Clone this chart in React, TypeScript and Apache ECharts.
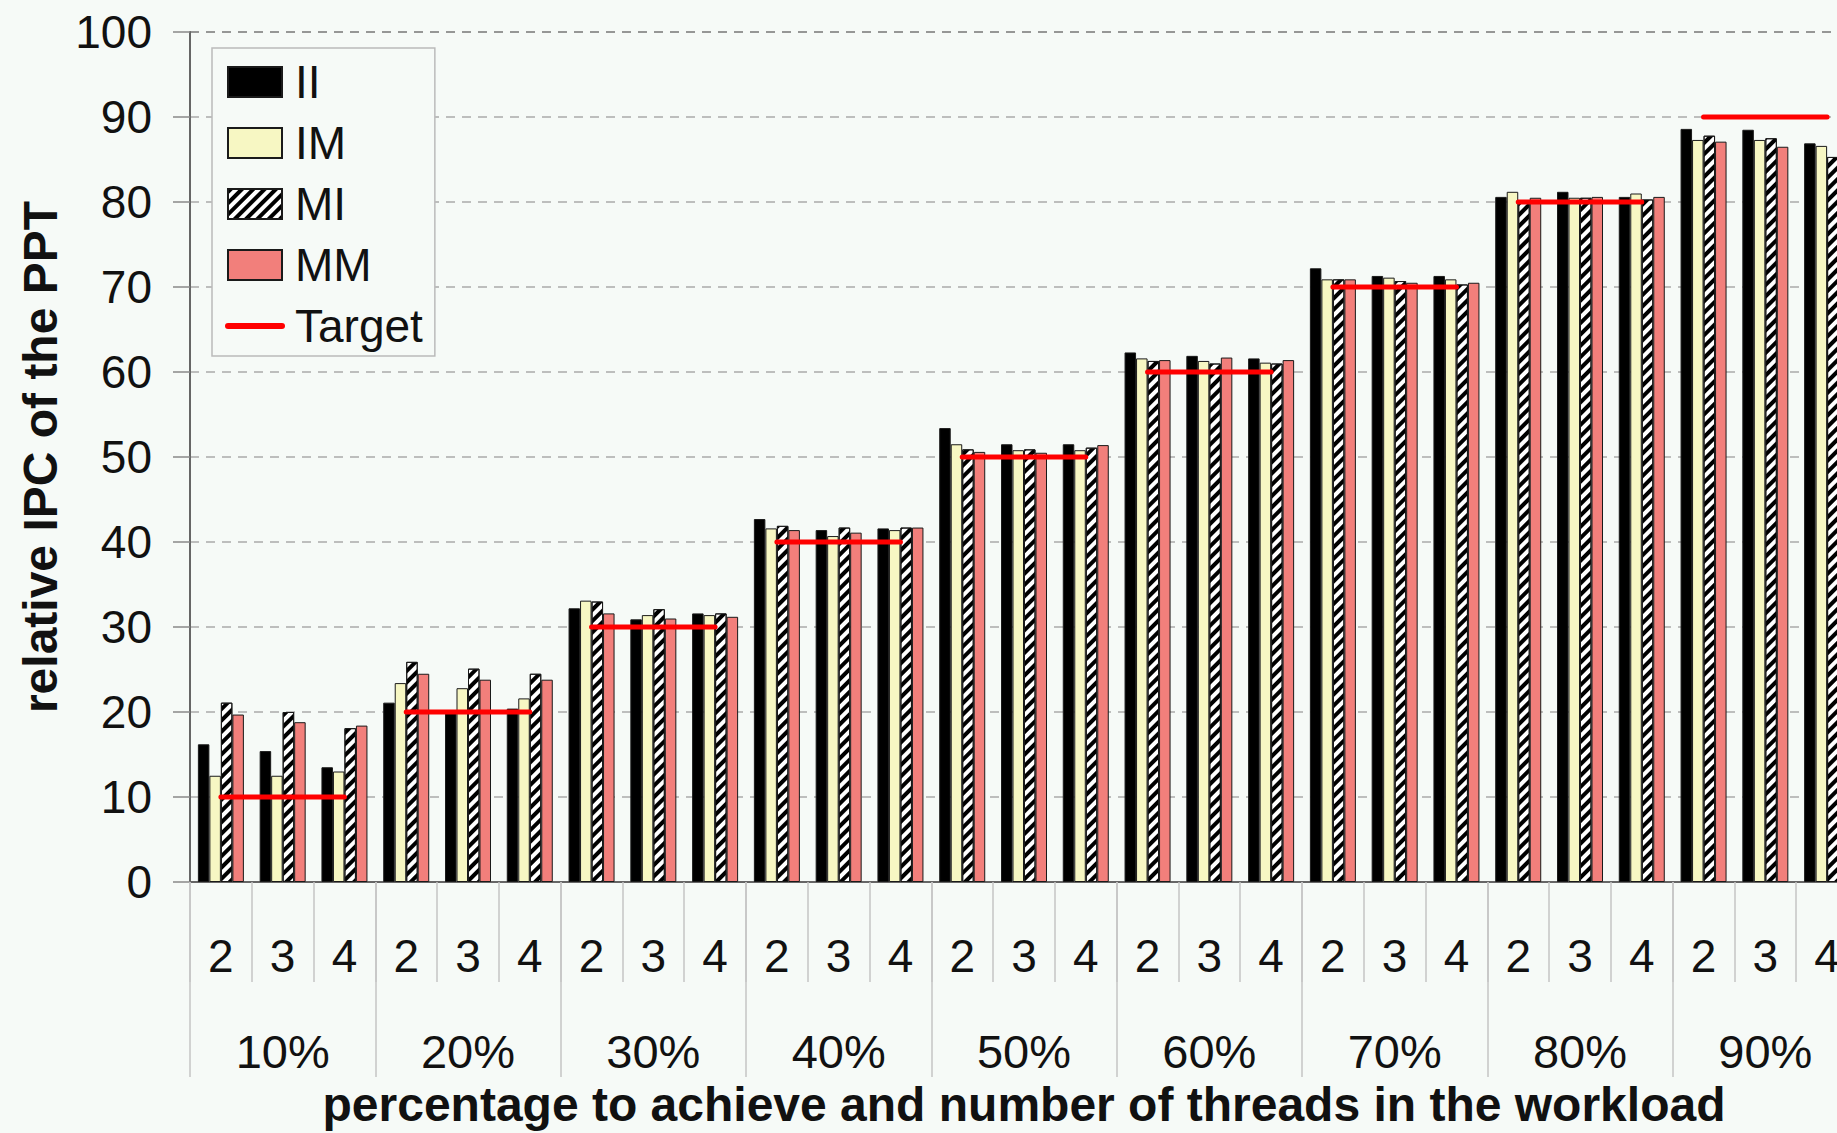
import React, { useEffect, useRef } from "react";
import * as echarts from "echarts";

const groups = ["10%", "20%", "30%", "40%", "50%", "60%", "70%", "80%", "90%"];
const threads = ["2", "3", "4"];
const targets = [10, 20, 30, 40, 50, 60, 70, 80, 90];
const yTicks = [0, 10, 20, 30, 40, 50, 60, 70, 80, 90, 100];

const II = [16.2, 15.4, 13.5, 21.1, 20.0, 20.4, 32.2, 30.9, 31.6, 42.7, 41.4, 41.6, 53.4, 51.5, 51.5, 62.3, 61.9, 61.6, 72.2, 71.3, 71.3, 80.6, 81.2, 80.6, 88.6, 88.5, 86.9];
const IM = [12.5, 12.5, 13.0, 23.4, 22.8, 21.6, 33.1, 31.4, 31.4, 41.6, 40.7, 41.4, 51.5, 50.8, 50.8, 61.6, 61.3, 61.1, 70.9, 71.1, 70.9, 81.2, 80.5, 81.0, 87.3, 87.3, 86.6];
const MI = [21.1, 20.0, 18.1, 25.9, 25.1, 24.5, 33.0, 32.1, 31.6, 41.9, 41.7, 41.7, 50.9, 50.9, 51.1, 61.3, 61.0, 61.0, 70.9, 70.7, 70.3, 80.2, 80.5, 80.3, 87.8, 87.5, 85.3];
const MM = [19.7, 18.8, 18.4, 24.5, 23.8, 23.8, 31.6, 31.0, 31.2, 41.4, 41.1, 41.7, 50.6, 50.5, 51.4, 61.4, 61.7, 61.4, 70.9, 70.5, 70.5, 80.5, 80.6, 80.6, 87.1, 86.5, 85.5];

const FONT = "'Liberation Sans', Arial, Helvetica, sans-serif";
const BG = "#f6faf7";

export default function App() {
  const ref = useRef<HTMLDivElement>(null);
  useEffect(() => {
    if (!ref.current) return;
    const chart = echarts.init(ref.current, undefined, { renderer: "svg" });
    const subCats: string[] = [];
    groups.forEach(() => threads.forEach((t) => subCats.push(t)));

    const barStyle = (color: string, extra: any = {}) => ({
      color,
      borderColor: "#1a1a1a",
      borderWidth: 1,
      ...extra,
    });
    const bar = (name: string, data: number[], itemStyle: any) => ({
      name,
      type: "bar",
      xAxisIndex: 0,
      yAxisIndex: 0,
      data,
      barWidth: 11.5,
      barGap: "0%",
      itemStyle,
      z: 2,
    });

    const targetSeries = targets.map((t, g) => {
      const d: (number | null)[] = subCats.map(() => null);
      for (let k = 0; k < threads.length; k++) d[g * threads.length + k] = t;
      return {
        name: "Target",
        type: "line",
        xAxisIndex: 0,
        yAxisIndex: 0,
        data: d,
        symbol: "none",
        connectNulls: false,
        color: "#ff0000",
        lineStyle: { color: "#ff0000", width: 5, cap: "round" },
        z: 5,
      };
    });

    const splitColors = yTicks.map((v) => (v === 100 ? "#777777" : "#aaaaaa"));

    chart.setOption({
      animation: false,
      backgroundColor: BG,
      textStyle: { fontFamily: FONT },
      grid: { left: 190, top: 32, bottom: 246, right: 0, containLabel: false },
      legend: {
        show: true,
        orient: "vertical",
        left: 212,
        top: 48,
        data: [
          { name: "II", icon: "rect" },
          { name: "IM", icon: "rect" },
          { name: "MI", icon: "rect" },
          { name: "MM", icon: "rect" },
          {
            name: "Target",
            itemStyle: { opacity: 0 },
            lineStyle: { width: 6, color: "#ff0000", cap: "round" },
          },
        ],
        itemWidth: 54,
        itemHeight: 30,
        itemGap: 15,
        padding: [11, 12, 7, 13],
        backgroundColor: BG,
        borderColor: "#bbbbbb",
        borderWidth: 1.5,
        textStyle: { fontSize: 46, color: "#111", fontFamily: FONT, padding: [0, 0, 0, 8] },
      },
      xAxis: [
        {
          type: "category",
          position: "bottom",
          offset: 0,
          data: subCats,
          axisLine: { show: true, lineStyle: { color: "#666", width: 2 } },
          axisTick: { show: true, length: 100, lineStyle: { color: "#c4c4c4", width: 1.5 } },
          axisLabel: { interval: 0, fontSize: 46, color: "#111", margin: 51, fontFamily: FONT },
          splitLine: { show: false },
        },
        {
          type: "category",
          position: "bottom",
          offset: 0,
          data: groups,
          axisLine: { show: false },
          axisTick: { show: true, length: 195, lineStyle: { color: "#c4c4c4", width: 1.5 } },
          axisLabel: { interval: 0, fontSize: 47, color: "#111", margin: 146, fontFamily: FONT },
          name: "percentage to achieve and number of threads in the workload",
          nameLocation: "middle",
          nameGap: 198,
          nameTextStyle: { fontSize: 48, fontWeight: "bold", color: "#111", fontFamily: FONT },
        },
      ],
      yAxis: {
        type: "value",
        min: 0,
        max: 100,
        interval: 10,
        name: "relative IPC of the PPT",
        nameLocation: "middle",
        nameGap: 125,
        nameTextStyle: { fontSize: 48, fontWeight: "bold", color: "#111", fontFamily: FONT },
        axisLine: { show: true, lineStyle: { color: "#666", width: 2 } },
        axisTick: { show: true, length: 17, lineStyle: { color: "#888", width: 1.5 } },
        axisLabel: {
          fontSize: 46,
          color: "#111",
          margin: 38,
          fontFamily: FONT,
          formatter: (v: number) => (yTicks.includes(v) ? String(v) : ""),
        },
        splitLine: { show: true, lineStyle: { color: splitColors, type: [9, 7], width: 1.5 } },
      },
      series: [
        bar("II", II, barStyle("#000000")),
        bar("IM", IM, barStyle("#f7f7c3")),
        bar(
          "MI",
          MI,
          barStyle("#ffffff", {
            decal: {
              symbol: "rect",
              symbolSize: 1,
              color: "#000000",
              dashArrayX: [1, 0],
              dashArrayY: [4, 4],
              rotation: -Math.PI / 4,
            },
          })
        ),
        bar("MM", MM, barStyle("#f27f7b")),
        ...targetSeries,
      ],
    });
    return () => chart.dispose();
  }, []);
  return (
    <div
      style={{
        position: "fixed",
        left: 0,
        top: 0,
        width: 1837,
        height: 1133,
        overflow: "hidden",
        background: BG,
      }}
    >
      <div ref={ref} style={{ width: 1858, height: 1133 }} />
    </div>
  );
}
